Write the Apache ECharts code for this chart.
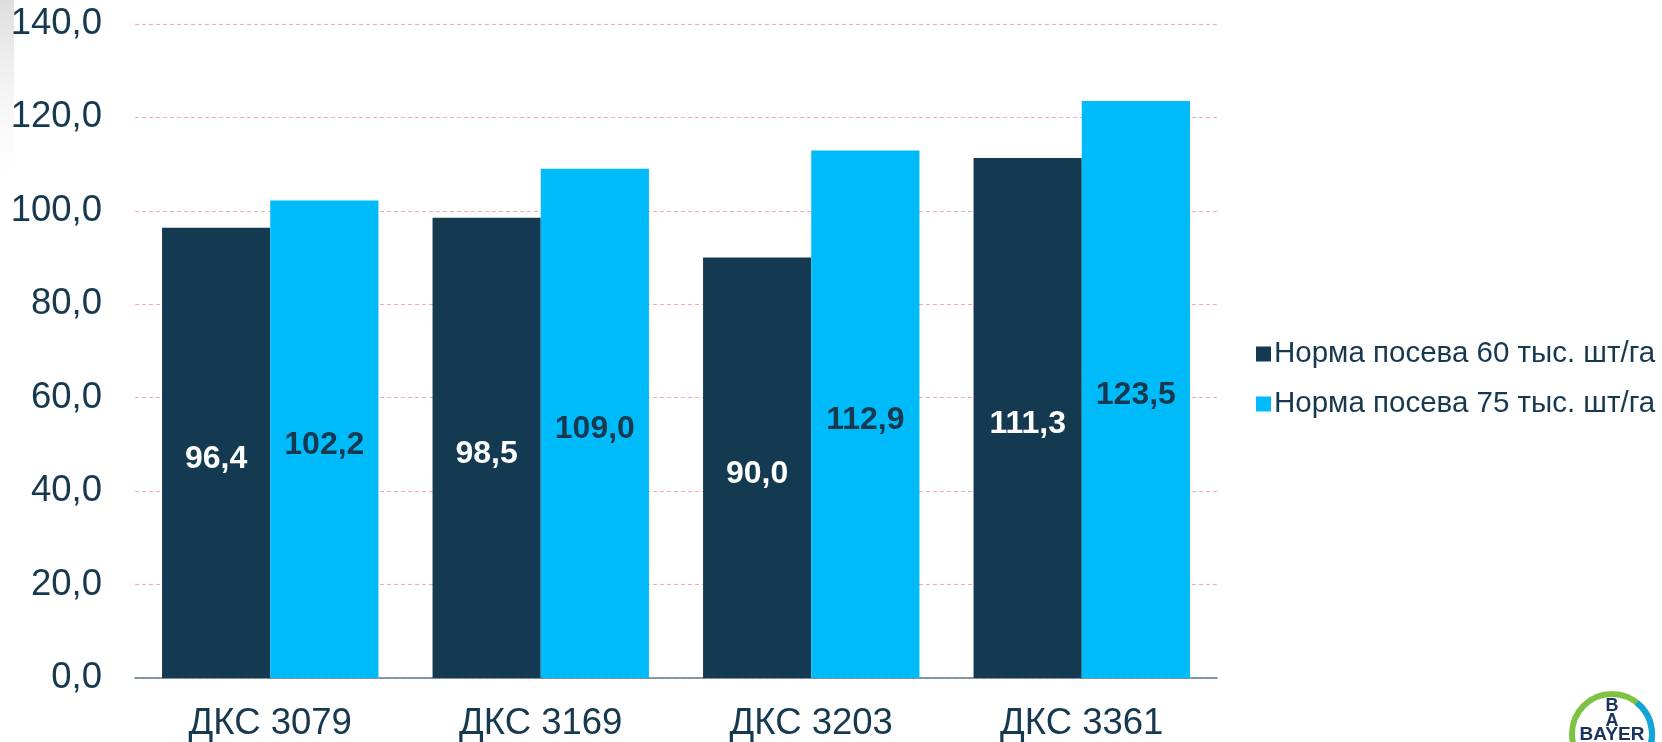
<!DOCTYPE html>
<html><head><meta charset="utf-8">
<script src="https://cdn.jsdelivr.net/npm/echarts@6/dist/echarts.min.js"></script>
<style>html,body{margin:0;padding:0;background:#fff}#c{width:1662px;height:742px}</style>
</head><body><div id="c"></div>
<script>
const categories = ['ДКС 3079', 'ДКС 3169', 'ДКС 3203', 'ДКС 3361'];
const seriesNames = ['Норма посева 60 тыс. шт/га', 'Норма посева 75 тыс. шт/га'];
const values60 = [96.4, 98.5, 90.0, 111.3];
const values75 = [102.2, 109.0, 112.9, 123.5];
const yTicks = { min: 0, max: 140, interval: 20 };

const textColor = '#17394f';
const fmt = v => Number(v).toFixed(1).replace('.', ',');
const chart = echarts.init(document.getElementById('c'));
chart.setOption({
  animation: false,
  textStyle: { fontFamily: 'Liberation Sans, Arial, sans-serif' },
  grid: { left: 135, right: 445, top: 24, bottom: 64, containLabel: false },
  legend: {
    left: 1251, top: 334, orient: 'vertical', itemGap: 20,
    itemWidth: 15, itemHeight: 15, icon: 'rect',
    textStyle: { color: textColor, fontSize: 29.5, padding: [0, 0, 0, -2] },
    data: seriesNames
  },
  xAxis: {
    type: 'category', data: categories,
    axisLine: { lineStyle: { color: '#5d7d90', width: 1.5 } },
    axisTick: { show: false },
    axisLabel: { color: textColor, fontSize: 36.5, margin: 27 }
  },
  yAxis: {
    type: 'value', min: yTicks.min, max: yTicks.max, interval: yTicks.interval,
    axisLine: { show: false }, axisTick: { show: false },
    axisLabel: { color: textColor, fontSize: 36.5, margin: 33, formatter: fmt },
    splitLine: { lineStyle: { color: '#f3a9bb', type: [4, 3], width: 1 } }
  },
  series: [
    { name: seriesNames[0], type: 'bar', data: values60, barGap: '0%', barCategoryGap: '20%',
      itemStyle: { color: '#133a50' },
      label: { show: true, position: 'inside', offset: [0, 6], color: '#ffffff', fontSize: 32, fontWeight: 'bold', formatter: p => fmt(p.value) } },
    { name: seriesNames[1], type: 'bar', data: values75, barGap: '0%', barCategoryGap: '20%',
      itemStyle: { color: '#00bbfa' },
      label: { show: true, position: 'inside', offset: [0, 6], color: '#17394f', fontSize: 32, fontWeight: 'bold', formatter: p => fmt(p.value) } }
  ],
  graphic: [
    { type: 'rect', shape: { x: 0, y: 0, width: 14, height: 175 }, z: -1,
      style: { fill: new echarts.graphic.LinearGradient(0, 0, 0, 1, [
        { offset: 0, color: 'rgba(200,200,200,0.6)' }, { offset: 1, color: 'rgba(230,230,230,0)' }]) } },
    { type: 'circle', shape: { cx: 1612, cy: 734, r: 40 }, style: { fill: '#fff', stroke: '#7dc242', lineWidth: 6 } },
    { type: 'arc', shape: { cx: 1612, cy: 734, r: 40, startAngle: -0.9, endAngle: 0.9 }, style: { stroke: '#10a5dc', lineWidth: 6, fill: null } },
    { type: 'text', style: { x: 1612, y: 706, text: 'B', fill: '#1a3360', font: 'bold 18px Liberation Sans', align: 'center', verticalAlign: 'middle' } },
    { type: 'text', style: { x: 1612, y: 721, text: 'A', fill: '#1a3360', font: 'bold 18px Liberation Sans', align: 'center', verticalAlign: 'middle' } },
    { type: 'text', style: { x: 1612, y: 735, text: 'BAYER', fill: '#1a3360', font: 'bold 19px Liberation Sans', align: 'center', verticalAlign: 'middle' } }
  ]
});
</script></body></html>
